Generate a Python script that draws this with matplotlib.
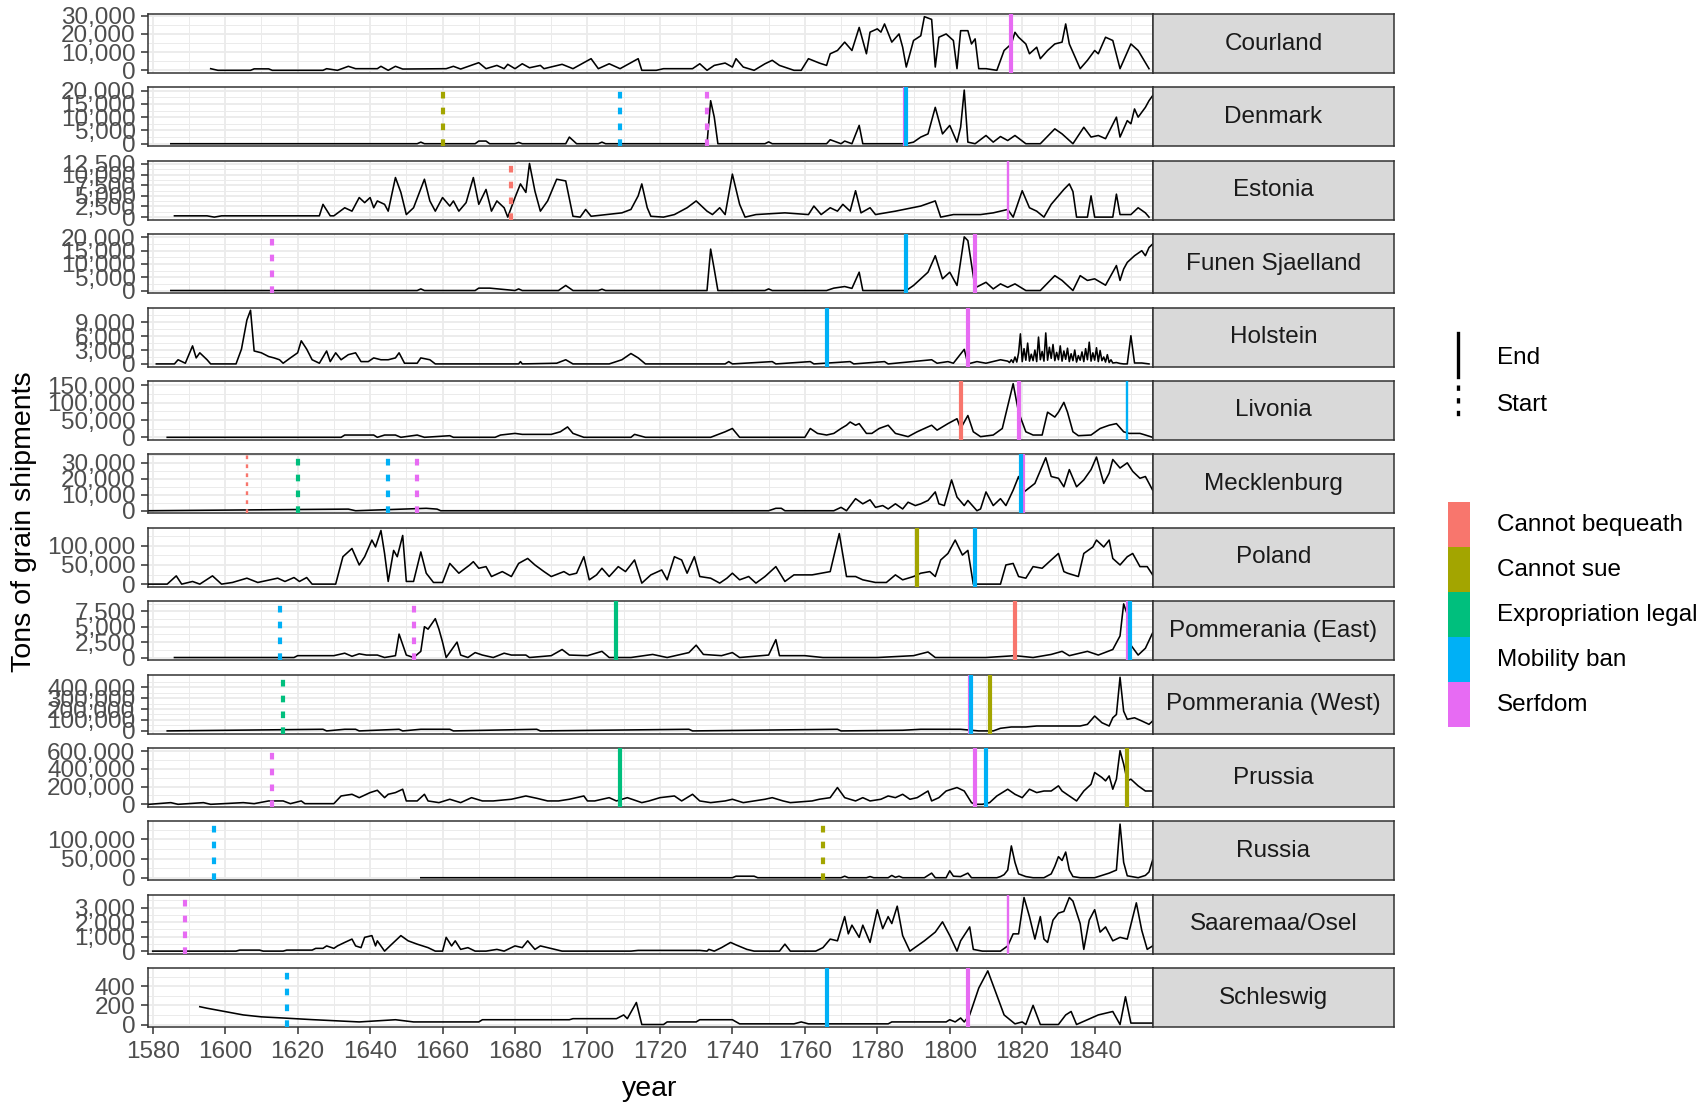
import matplotlib
matplotlib.use("Agg")
import matplotlib.pyplot as plt
from matplotlib.lines import Line2D
from matplotlib.patches import Rectangle

plt.rcParams['font.family'] = ['Liberation Sans', 'DejaVu Sans']

countries = ["Courland", "Denmark", "Estonia", "Funen Sjaelland", "Holstein", "Livonia",
             "Mecklenburg", "Poland", "Pommerania (East)", "Pommerania (West)", "Prussia",
             "Russia", "Saaremaa/Osel", "Schleswig"]

# tons of grain shipped per year
courland_year = [1596, 1598, 1607, 1608, 1612, 1613, 1627, 1628, 1631, 1634,
                 1636, 1642, 1643, 1645, 1647, 1649, 1661, 1663, 1665, 1670,
                 1672, 1675, 1677, 1678, 1680, 1682, 1684, 1687, 1688, 1693,
                 1696, 1701, 1703, 1706, 1709, 1714, 1715, 1719, 1721, 1729,
                 1731, 1733, 1735, 1738, 1740, 1741, 1743, 1746, 1749, 1751,
                 1753, 1757, 1759, 1761, 1764, 1766, 1767, 1769, 1771, 1773,
                 1775, 1777, 1778, 1780, 1781, 1782, 1784, 1786, 1787, 1788,
                 1790, 1792, 1793, 1795, 1796, 1797, 1799, 1801, 1802, 1803,
                 1805, 1806, 1807, 1808, 1810, 1813, 1815, 1817, 1818, 1819,
                 1821, 1822, 1824, 1825, 1827, 1829, 1831, 1832, 1833, 1836,
                 1838, 1840, 1841, 1843, 1845, 1847, 1850, 1852, 1855]
courland_tons = [900, 0, 0, 800, 800, 0, 0, 900, 0, 2200,
                 900, 900, 2200, 0, 2200, 700, 900, 2200, 700, 4200,
                 900, 2700, 900, 3300, 900, 3600, 1400, 2700, 900, 3300,
                 900, 6400, 900, 3600, 900, 6400, 0, 0, 900, 900,
                 3600, 0, 2700, 4000, 1800, 6400, 1800, 0, 3600, 5500,
                 2700, 0, 0, 6400, 4000, 2700, 9100, 10900, 15500, 10900,
                 23600, 9100, 21000, 22800, 21000, 25500, 15500, 20000, 12700, 1800,
                 16400, 19000, 29500, 28000, 1800, 18200, 20000, 16400, 900, 21800,
                 21800, 14500, 17300, 900, 900, 0, 10900, 14500, 20900, 18200,
                 14500, 9100, 12700, 6400, 10900, 14500, 15500, 25500, 14500, 900,
                 5500, 10900, 9100, 18200, 16400, 900, 14500, 10900, 900]

denmark_year = [1585, 1653, 1654, 1655, 1669, 1670, 1672, 1673, 1680, 1681,
                1682, 1694, 1695, 1697, 1703, 1704, 1705, 1733, 1734, 1735,
                1736, 1749, 1750, 1751, 1766, 1767, 1770, 1771, 1773, 1775,
                1776, 1788, 1790, 1792, 1794, 1796, 1798, 1800, 1802, 1803,
                1804, 1805, 1807, 1810, 1812, 1814, 1816, 1818, 1821, 1825,
                1829, 1831, 1834, 1837, 1839, 1841, 1843, 1846, 1847, 1849,
                1850, 1851, 1852, 1854, 1855, 1856]
denmark_tons = [0, 0, 600, 0, 0, 1000, 1000, 0, 0, 500,
                0, 0, 2500, 0, 0, 600, 0, 0, 16200, 10000,
                0, 0, 700, 0, 0, 1500, 0, 1000, 0, 6900,
                0, 0, 600, 2500, 3700, 13700, 3700, 6900, 600, 6200,
                20200, 600, 0, 3100, 600, 2700, 1200, 3100, 0, 0,
                5600, 3700, 0, 6200, 2500, 3100, 1900, 10000, 2500, 8700,
                7500, 13100, 10000, 13700, 16200, 18100]

estonia_year = [1586, 1595, 1597, 1599, 1626, 1627, 1629, 1630, 1633, 1635,
                1637, 1638.5, 1640, 1641, 1642, 1644, 1645, 1647, 1648.5, 1650,
                1652, 1655, 1656.5, 1658, 1660, 1662, 1663, 1664.5, 1666.5, 1668.5,
                1670, 1672, 1673.5, 1675, 1677, 1678, 1680, 1681.5, 1683, 1684,
                1685.5, 1687, 1689, 1691.5, 1694, 1696, 1698, 1699.5, 1701, 1709.5,
                1712, 1714, 1715, 1716.5, 1717.5, 1721, 1724, 1727.5, 1730, 1733,
                1734.5, 1736.5, 1738, 1740, 1742, 1743.5, 1746.5, 1754.5, 1761, 1762.5,
                1764.5, 1767, 1769, 1770.5, 1772.5, 1774, 1775.5, 1778, 1779.5, 1785,
                1792, 1796, 1797.5, 1801, 1808.5, 1812, 1816, 1817.5, 1820, 1822,
                1824, 1826, 1828, 1830, 1831.5, 1833, 1834, 1835, 1838, 1839,
                1840, 1845, 1846, 1847, 1850, 1852, 1854, 1855]
estonia_tons = [300, 300, 0, 300, 300, 3000, 300, 300, 2200, 1400,
                4600, 3400, 4600, 2200, 3800, 3000, 1400, 9300, 5800, 600,
                2200, 8900, 3800, 1400, 4600, 2600, 3800, 1400, 3400, 9300,
                3000, 6500, 1400, 3800, 2200, 0, 4600, 7800, 5800, 12600,
                6100, 1400, 3800, 8900, 8500, 200, 0, 1800, 200, 1000,
                1800, 5000, 7800, 2200, 200, 0, 600, 2200, 3800, 1400,
                600, 2200, 600, 10100, 3000, 0, 600, 1000, 600, 2600,
                600, 2200, 1400, 3000, 1400, 6200, 1000, 2200, 600, 1400,
                2600, 3800, 0, 600, 600, 1000, 1800, 0, 6200, 2200,
                1400, 0, 3000, 5000, 6500, 7800, 6000, 0, 0, 5000,
                0, 0, 5400, 600, 600, 2200, 1000, 0]

funen_year = [1585, 1653, 1654, 1655, 1669, 1670, 1673, 1680, 1681, 1682,
              1692, 1694, 1696, 1703, 1704, 1705, 1733, 1734, 1735, 1736,
              1749, 1750, 1751, 1766, 1768, 1771, 1773, 1775, 1776, 1788,
              1790, 1792, 1794, 1796, 1798, 1800, 1802, 1803, 1804, 1805,
              1807, 1810, 1812, 1814, 1816, 1818, 1821, 1825, 1829, 1831,
              1834, 1836, 1838, 1840, 1843, 1846, 1847, 1848, 1849, 1851,
              1853, 1854, 1855, 1856]
funen_tons = [0, 0, 600, 0, 0, 900, 900, 0, 600, 0,
              0, 1900, 0, 0, 500, 0, 0, 15600, 8000, 0,
              0, 600, 0, 0, 900, 1500, 800, 6900, 0, 0,
              1900, 4400, 6900, 13100, 4400, 6900, 1900, 11000, 20200, 18800,
              1000, 3100, 600, 2500, 1200, 2500, 0, 0, 5600, 3800,
              0, 5600, 3800, 4400, 2000, 9400, 3800, 8100, 10600, 13100,
              15000, 13100, 16200, 17500]

holstein_year = [1581, 1586, 1587, 1589, 1591, 1592, 1593, 1595, 1596, 1603,
                 1604.5, 1606, 1607, 1608, 1610, 1612, 1613.5, 1615, 1616, 1618,
                 1620, 1621, 1622.5, 1624, 1626, 1628, 1629, 1630.5, 1632, 1634,
                 1636, 1637.5, 1639.5, 1641, 1643, 1645, 1647, 1648, 1649.5, 1653,
                 1654, 1656.5, 1658, 1681, 1681.5, 1682, 1691.5, 1694, 1696, 1706,
                 1709.5, 1712, 1714, 1716, 1738, 1739, 1740, 1751, 1752, 1761.5,
                 1762.5, 1772.5, 1773.5, 1782, 1783, 1795, 1796.5, 1799.5, 1801, 1804,
                 1805, 1807.5, 1810, 1814,
                 1816, 1816.5, 1817, 1817.5, 1818, 1818.5, 1819, 1819.5, 1820, 1820.5,
                 1821, 1821.5, 1822, 1822.5, 1823, 1823.5, 1824, 1824.5, 1825, 1825.5,
                 1826, 1826.5, 1827, 1827.5, 1828, 1828.5, 1829, 1829.5, 1830, 1830.5,
                 1831, 1831.5, 1832, 1832.5, 1833, 1833.5, 1834, 1834.5, 1835, 1835.5,
                 1836, 1836.5, 1837, 1837.5, 1838, 1838.5, 1839, 1839.5, 1840, 1840.5,
                 1841, 1841.5, 1842, 1842.5, 1843, 1843.5, 1844, 1844.5,
                 1845, 1846, 1847, 1848, 1849, 1850, 1851, 1853, 1855]
holstein_tons = [0, 0, 900, 150, 3900, 1300, 2400, 900, 0, 0,
                 3200, 9500, 11600, 2800, 2400, 1600, 1300, 900, 150, 1300,
                 2400, 5000, 3200, 900, 150, 2800, 500, 2400, 900, 2000,
                 2400, 500, 500, 1300, 900, 900, 1300, 2400, 150, 150,
                 1300, 900, 0, 0, 500, 0, 150, 900, 0, 0,
                 900, 2250, 1300, 0, 0, 500, 0, 500, 0, 500,
                 0, 500, 0, 500, 0, 900, 150, 500, 150, 3150,
                 0, 500, 150, 900,
                 600, 300, 900, 300, 1500, 400, 2400, 6500, 500, 3300,
                 800, 4500, 600, 2100, 700, 3000, 500, 5800, 900, 2700,
                 600, 6700, 800, 3600, 1200, 4200, 700, 2500, 900, 3900,
                 600, 2800, 1000, 3400, 500, 2200, 700, 3000, 400, 1800,
                 800, 2600, 500, 3300, 900, 4700, 600, 2400, 800, 3500,
                 500, 2900, 700, 1500, 400, 2000, 300, 900,
                 200, 300, 100, 0, 0, 6100, 200, 200, 0]

livonia_year = [1584, 1632, 1633, 1641, 1642, 1644, 1647, 1648.5, 1653, 1655,
                1662, 1663, 1674.5, 1676, 1680, 1682, 1690, 1692.5, 1694.5, 1696,
                1699, 1712, 1713, 1716, 1734, 1738, 1740, 1742, 1760, 1761.5,
                1763.5, 1766, 1768, 1770, 1771.5, 1772.5, 1774, 1775, 1777, 1778.5,
                1780.5, 1783, 1785, 1788.5, 1791, 1793, 1795, 1796.5, 1799.5, 1802,
                1803, 1805, 1806.5, 1808.5, 1812, 1814.5, 1817.5, 1819, 1821, 1823,
                1825.5, 1827, 1829, 1830, 1831.5, 1832.5, 1834, 1835.5, 1839, 1841.5,
                1844, 1846, 1848, 1849.5, 1852.5, 1854, 1856]
livonia_tons = [0, 0, 6600, 6600, 0, 6600, 6600, 0, 6600, 0,
                4700, 0, 0, 6600, 11300, 8500, 8500, 16000, 30000, 11300,
                0, 0, 8500, 0, 0, 16000, 25500, 0, 0, 25500,
                11300, 6600, 11300, 25500, 34900, 44300, 34900, 39600, 11300, 11300,
                25500, 34900, 11300, 1900, 16000, 25500, 34900, 20700, 39600, 53700,
                25500, 63000, 16000, 1900, 6600, 25500, 155000, 72600, 16000, 6600,
                6600, 72600, 58500, 72600, 101000, 72600, 16000, 4700, 6600, 25500,
                34900, 39600, 16000, 11300, 11300, 6600, 0]

meck_year = [1579, 1634, 1636, 1655.5, 1658.5, 1659.5, 1750, 1752, 1753.5, 1754.5,
             1768, 1770, 1771.5, 1774, 1776, 1778, 1779.5, 1781.5, 1783, 1785,
             1787, 1788.5, 1790.5, 1792, 1794, 1796, 1797, 1798.5, 1800.5, 1802,
             1804, 1805, 1807.5, 1808.5, 1810, 1812, 1814, 1815.5, 1817.5, 1819,
             1820.5, 1823.5, 1826.5, 1828, 1830, 1831.5, 1833, 1835, 1837, 1839,
             1840.5, 1842.5, 1844, 1845, 1847, 1849, 1850.5, 1852.5, 1854, 1856]
meck_tons = [0, 1000, 0, 1500, 1000, 0, 0, 1500, 1500, 0,
             0, 2100, 0, 7500, 4300, 6800, 2100, 3200, 1100, 4300,
             1100, 5300, 3200, 4300, 6400, 11700, 4300, 3200, 19200, 8500,
             3200, 6400, 0, 1100, 11700, 3200, 7500, 3200, 12800, 21300,
             11700, 17000, 33000, 21300, 20200, 14900, 25600, 14900, 19200, 25600,
             33400, 17000, 23400, 31900, 26600, 29800, 24500, 20200, 21300, 12800]

poland_year = [1578.5, 1584, 1586.5, 1588, 1591, 1593, 1596.5, 1599, 1602, 1606,
               1609, 1614.5, 1616.5, 1619, 1620.5, 1622.5, 1624, 1630.5, 1632.5, 1635,
               1637, 1638.5, 1640.5, 1641.5, 1643, 1644, 1645, 1646.5, 1647.5, 1649,
               1650, 1652, 1654, 1655.5, 1657.5, 1660, 1662, 1664.5, 1667.5, 1668.5,
               1670, 1672, 1673.5, 1676.5, 1679, 1681, 1683.5, 1685.5, 1688, 1690,
               1693.5, 1695, 1697, 1699, 1700.5, 1702.5, 1704, 1706, 1708.5, 1710.5,
               1713, 1715, 1717.5, 1720.5, 1722, 1724, 1726, 1727.5, 1729.5, 1731,
               1734, 1736.5, 1738.5, 1740, 1742, 1744.5, 1746.5, 1749, 1752, 1754.5,
               1757, 1762, 1767, 1769.5, 1771.5, 1774, 1776, 1779.5, 1782.5, 1785,
               1787, 1790, 1792, 1794.5, 1796, 1797.5, 1799.5, 1801.5, 1803.5, 1805,
               1806.5, 1808.5, 1814, 1815.5, 1817.5, 1819, 1821, 1823, 1825.5, 1828,
               1830, 1831.5, 1832.5, 1835.5, 1837, 1839.5, 1840.5, 1842.5, 1844, 1845,
               1847, 1849, 1850.5, 1852.5, 1854.5, 1856]
poland_tons = [0, 0, 21500, 0, 6900, 0, 21500, 0, 4300, 15500,
               4300, 15500, 6900, 17200, 6900, 17200, 0, 0, 71500, 93000,
               50000, 71500, 115000, 97000, 140000, 80000, 7000, 88000, 71500, 127000,
               7000, 7000, 84000, 28500, 4300, 4300, 54000, 28500, 50000, 58600,
               41400, 45700, 19800, 32700, 19800, 54000, 67000, 50000, 32700, 19800,
               32700, 24100, 28500, 71500, 11200, 24100, 41400, 19800, 45700, 32700,
               63000, 2600, 24100, 37000, 11200, 71500, 63000, 28500, 71500, 19800,
               15500, 2600, 15500, 28500, 11200, 19800, 2600, 19800, 45700, 6900,
               24100, 24100, 32700, 132000, 19800, 19800, 11200, 4300, 4300, 24100,
               11200, 19800, 28500, 32700, 19800, 63000, 80000, 115000, 75800, 88000,
               0, 0, 0, 50000, 54000, 19800, 15500, 45700, 41400, 63000,
               80000, 32700, 28500, 19800, 80000, 97000, 115000, 97000, 115000, 67000,
               50000, 71500, 80000, 45700, 45700, 24100]

pome_year = [1586, 1619, 1620, 1630, 1633, 1635, 1637, 1639, 1642, 1644,
             1647, 1648, 1650, 1652, 1654, 1655, 1656, 1658, 1659, 1660,
             1661, 1664, 1665, 1667, 1669, 1671, 1674, 1677, 1679, 1683,
             1684, 1690, 1693, 1695, 1700, 1704, 1706, 1712, 1718, 1722,
             1728, 1730, 1732, 1737, 1740, 1742, 1750, 1752, 1753, 1760,
             1765, 1780, 1790, 1794, 1796, 1810, 1818, 1823, 1828, 1831,
             1833, 1838, 1841, 1845, 1847, 1848, 1849, 1850, 1852, 1854,
             1856]
pome_tons = [0, 0, 300, 300, 700, 200, 600, 400, 400, 0,
             300, 3800, 400, 0, 1000, 5000, 4600, 6300, 4600, 2500,
             0, 2500, 400, 0, 800, 400, 0, 700, 400, 400,
             0, 300, 1300, 400, 300, 1000, 0, 0, 500, 0,
             800, 2000, 500, 300, 800, 0, 400, 2900, 300, 300,
             0, 0, 300, 900, 0, 0, 300, 0, 500, 1000,
             300, 1000, 400, 1300, 3500, 8700, 7000, 2000, 400, 1500,
             4000]

pomw_year = [1584, 1627, 1628, 1633, 1636, 1637, 1648, 1649, 1654, 1662,
             1663, 1686, 1687, 1728, 1729, 1769, 1770, 1787, 1792, 1803,
             1808, 1812, 1814, 1817, 1821, 1824, 1828, 1831, 1836, 1838,
             1840, 1842, 1844, 1845, 1846, 1847, 1848, 1849, 1851, 1853,
             1855, 1856]
pomw_tons = [0, 15000, 0, 15000, 15000, 0, 15000, 0, 15000, 15000,
             0, 15000, 0, 15000, 0, 15000, 0, 6000, 15000, 15000,
             0, 0, 24000, 36000, 36000, 45000, 45000, 45000, 45000, 60000,
             136000, 75000, 45000, 120000, 150000, 490000, 180000, 106000, 120000, 91000,
             60000, 91000]

prussia_year = [1579, 1585, 1587, 1594, 1596, 1605, 1608, 1612, 1616, 1618,
                1621, 1622, 1630, 1632, 1635, 1637, 1640, 1642, 1644, 1645,
                1647, 1649, 1650, 1653, 1655, 1656, 1659, 1662, 1665, 1668,
                1671, 1674, 1679, 1683, 1686, 1689, 1692, 1695, 1699, 1700,
                1702, 1706, 1708, 1711, 1715, 1717, 1720, 1724, 1726, 1729,
                1731, 1734, 1738, 1740, 1743, 1749, 1751, 1754, 1756, 1762,
                1764, 1767, 1769, 1771, 1774, 1776, 1778, 1781, 1783, 1785,
                1787, 1789, 1791, 1794, 1795, 1797, 1799, 1802, 1804, 1806,
                1807, 1809, 1811, 1813, 1816, 1818, 1820, 1822, 1824, 1826,
                1828, 1830, 1831, 1833, 1835, 1837, 1839, 1840, 1842, 1843,
                1844, 1845, 1846, 1847, 1848, 1849, 1850, 1852, 1854, 1856]
prussia_tons = [0, 19000, 0, 19000, 0, 19000, 7500, 38000, 38000, 7500,
                38000, 7500, 7500, 94000, 113000, 75000, 132000, 158000, 75000, 113000,
                132000, 170000, 38000, 38000, 113000, 38000, 19000, 57000, 19000, 75000,
                38000, 38000, 57000, 94000, 68000, 38000, 38000, 57000, 94000, 38000,
                38000, 75000, 38000, 75000, 19000, 38000, 75000, 94000, 38000, 113000,
                38000, 19000, 38000, 57000, 19000, 57000, 75000, 38000, 19000, 38000,
                57000, 75000, 189000, 75000, 38000, 75000, 38000, 57000, 94000, 75000,
                113000, 57000, 75000, 150000, 38000, 75000, 150000, 189000, 150000, 19000,
                0, 0, 19000, 94000, 170000, 113000, 75000, 170000, 132000, 150000,
                150000, 208000, 150000, 94000, 38000, 150000, 226000, 358000, 302000, 264000,
                320000, 170000, 283000, 604000, 453000, 264000, 283000, 208000, 150000, 150000]

russia_year = [1654, 1740, 1741, 1746, 1747, 1770, 1771, 1772, 1777, 1778,
               1779, 1783, 1784, 1785, 1786, 1787, 1793, 1795, 1796, 1799,
               1800, 1801, 1803, 1805, 1806, 1813, 1814, 1815, 1816, 1817,
               1818, 1819, 1821, 1823, 1826, 1828, 1829, 1830, 1831, 1832,
               1833, 1834, 1836, 1840, 1842, 1844, 1846, 1847, 1848, 1849,
               1852, 1854, 1855, 1856]
russia_tons = [0, 0, 4000, 4000, 0, 0, 4000, 0, 0, 3000,
               0, 0, 6000, 1000, 4000, 0, 0, 12000, 0, 0,
               18000, 4000, 3000, 12000, 0, 0, 3000, 8000, 20000, 83000,
               40000, 10000, 3000, 0, 0, 10000, 30000, 55000, 45000, 67000,
               20000, 3000, 0, 0, 6000, 12000, 20000, 140000, 40000, 5000,
               0, 6000, 15000, 46000]

saare_year = [1580, 1603, 1604, 1609.5, 1610.5, 1616, 1617, 1624, 1625, 1627,
              1628, 1630, 1631, 1633, 1635, 1636, 1637.5, 1638.5, 1640.5, 1641.5,
              1642, 1644, 1646, 1648.5, 1650.5, 1653, 1656, 1658, 1660, 1661,
              1662.5, 1663.5, 1665, 1667, 1669, 1672, 1675, 1677, 1680, 1682,
              1683.5, 1685.5, 1687, 1689, 1691, 1693, 1702, 1712, 1714, 1731,
              1733, 1733.5, 1735, 1737, 1739.5, 1741, 1744, 1746, 1753, 1754.5,
              1756, 1763, 1765, 1767, 1769, 1771, 1772, 1773, 1775, 1776,
              1778, 1780, 1781.5, 1783, 1784, 1785.5, 1787, 1789, 1793, 1796,
              1798, 1800, 1802, 1803, 1805.5, 1806.5, 1809, 1814, 1816, 1817.5,
              1819, 1820.5, 1822, 1823.5, 1825, 1826, 1827, 1828.5, 1830, 1831.5,
              1833, 1834, 1836, 1837, 1838.5, 1840, 1841.5, 1843, 1845, 1847,
              1849, 1851.5, 1853, 1854.5, 1856]
saare_tons = [0, 0, 70, 70, 0, 0, 70, 70, 190, 190,
              360, 190, 360, 600, 830, 360, 240, 950, 1070, 360,
              710, 0, 480, 1070, 710, 480, 240, 0, 0, 950,
              360, 710, 120, 240, 0, 0, 120, 0, 360, 240,
              710, 120, 360, 240, 120, 0, 0, 0, 50, 50,
              0, 120, 0, 240, 600, 430, 120, 0, 0, 480,
              0, 0, 240, 830, 710, 2380, 1190, 1790, 950, 1790,
              600, 2860, 1550, 2380, 1900, 3100, 1070, 0, 710, 1310,
              2020, 1070, 0, 710, 1670, 120, 0, 0, 360, 1190,
              1190, 3700, 2380, 830, 2380, 830, 600, 2140, 2620, 2740,
              3700, 3450, 1900, 120, 2140, 2860, 1310, 1670, 710, 950,
              830, 3330, 1430, 120, 360]

schles_year = [1593, 1595, 1600, 1605, 1610, 1616, 1624, 1637, 1647, 1652,
               1670, 1671, 1680, 1695, 1696, 1708, 1710, 1711, 1713.5, 1715,
               1721, 1722, 1730, 1731, 1740, 1742, 1757, 1759, 1761, 1768,
               1783, 1784, 1799, 1800, 1801.5, 1803, 1804, 1805.5, 1808, 1810.5,
               1813, 1815, 1818, 1820, 1821, 1823, 1825, 1830, 1832, 1833.5,
               1835, 1841, 1845, 1847, 1848.5, 1850, 1856]
schles_tons = [186, 170, 135, 100, 80, 68, 51, 27, 50, 27,
               27, 50, 50, 50, 61, 61, 100, 61, 230, 0,
               0, 27, 27, 50, 50, 7, 7, 27, 7, 7,
               7, 27, 27, 50, 27, 68, 27, 100, 380, 560,
               305, 100, 7, 27, 0, 200, 0, 0, 100, 136,
               0, 100, 136, 0, 290, 15, 15]

y_breaks = [[0, 10000, 20000, 30000],
            [0, 5000, 10000, 15000, 20000],
            [0, 2500, 5000, 7500, 10000, 12500],
            [0, 5000, 10000, 15000, 20000],
            [0, 3000, 6000, 9000],
            [0, 50000, 100000, 150000],
            [0, 10000, 20000, 30000],
            [0, 50000, 100000],
            [0, 2500, 5000, 7500],
            [0, 100000, 200000, 300000, 400000],
            [0, 200000, 400000, 600000],
            [0, 50000, 100000],
            [0, 1000, 2000, 3000],
            [0, 200, 400]]

# law changes (vertical lines)
law_country = ["Courland",
               "Denmark", "Denmark", "Denmark", "Denmark", "Denmark",
               "Estonia", "Estonia",
               "Funen Sjaelland", "Funen Sjaelland", "Funen Sjaelland",
               "Holstein", "Holstein",
               "Livonia", "Livonia", "Livonia",
               "Mecklenburg", "Mecklenburg", "Mecklenburg", "Mecklenburg", "Mecklenburg", "Mecklenburg",
               "Poland", "Poland",
               "Pommerania (East)", "Pommerania (East)", "Pommerania (East)", "Pommerania (East)",
               "Pommerania (East)", "Pommerania (East)",
               "Pommerania (West)", "Pommerania (West)", "Pommerania (West)", "Pommerania (West)",
               "Prussia", "Prussia", "Prussia", "Prussia", "Prussia",
               "Russia", "Russia",
               "Saaremaa/Osel", "Saaremaa/Osel",
               "Schleswig", "Schleswig", "Schleswig"]
law_year = [1817,
            1660, 1709, 1733, 1787.6, 1788,
            1679, 1816,
            1613, 1788, 1807,
            1766, 1805,
            1803, 1819, 1849,
            1606, 1620, 1645, 1653, 1820.3, 1819.7,
            1791, 1807,
            1615, 1652, 1708, 1818, 1849.2, 1849.8,
            1616, 1805.5, 1806, 1811,
            1613, 1709, 1807, 1810, 1849,
            1597, 1765,
            1589, 1816,
            1617, 1766, 1805]
law_kind = ["Serfdom",
            "Cannot sue", "Mobility ban", "Serfdom", "Serfdom", "Mobility ban",
            "Cannot bequeath", "Serfdom",
            "Serfdom", "Mobility ban", "Serfdom",
            "Mobility ban", "Serfdom",
            "Cannot bequeath", "Serfdom", "Mobility ban",
            "Cannot bequeath", "Expropriation legal", "Mobility ban", "Serfdom", "Serfdom", "Mobility ban",
            "Cannot sue", "Mobility ban",
            "Mobility ban", "Serfdom", "Expropriation legal", "Cannot bequeath", "Serfdom", "Mobility ban",
            "Expropriation legal", "Serfdom", "Mobility ban", "Cannot sue",
            "Serfdom", "Expropriation legal", "Serfdom", "Mobility ban", "Cannot sue",
            "Mobility ban", "Cannot sue",
            "Serfdom", "Serfdom",
            "Mobility ban", "Mobility ban", "Serfdom"]
law_phase = ["End",
             "Start", "Start", "Start", "End", "End",
             "Start", "End",
             "Start", "End", "End",
             "End", "End",
             "End", "End", "End",
             "Start", "Start", "Start", "Start", "End", "End",
             "End", "End",
             "Start", "Start", "End", "End", "End", "End",
             "Start", "End", "End", "End",
             "Start", "End", "End", "End", "End",
             "Start", "Start",
             "Start", "End",
             "Start", "End", "End"]

kinds = ["Cannot bequeath", "Cannot sue", "Expropriation legal", "Mobility ban", "Serfdom"]
kind_colors = ["#F8766D", "#A3A500", "#00BF7D", "#00B0F6", "#E76BF3"]
thin_lines = [("Mecklenburg", "Cannot bequeath", "Start"), ("Livonia", "Mobility ban", "End"),
              ("Estonia", "Serfdom", "End"), ("Saaremaa/Osel", "Serfdom", "End")]

series = [(courland_year, courland_tons), (denmark_year, denmark_tons),
          (estonia_year, estonia_tons), (funen_year, funen_tons),
          (holstein_year, holstein_tons), (livonia_year, livonia_tons),
          (meck_year, meck_tons), (poland_year, poland_tons),
          (pome_year, pome_tons), (pomw_year, pomw_tons),
          (prussia_year, prussia_tons), (russia_year, russia_tons),
          (saare_year, saare_tons), (schles_year, schles_tons)]

W, H = 1707, 1105
fig = plt.figure(figsize=(W / 100, H / 100), dpi=100)
dash = (0, (1.6, 2.2))
edge = "#333333"
fs = 17.5

for i, name in enumerate(countries):
    top = 14 + 73.4 * i
    rect = [148 / W, 1 - (top + 59) / H, 1005 / W, 59 / H]
    ax = fig.add_axes(rect)
    yrs, tons = series[i]
    ax.plot(yrs, tons, color="black", lw=1.15, zorder=3)
    for c, yr, kind, phase in zip(law_country, law_year, law_kind, law_phase):
        if c != name:
            continue
        lw = 1.7 if (c, kind, phase) in thin_lines else 3.0
        ax.axvline(yr, color=kind_colors[kinds.index(kind)], lw=lw,
                   linestyle="-" if phase == "End" else dash, zorder=4)

    br = y_breaks[i]
    step = br[1] - br[0]
    ax.set_yticks(br)
    ax.set_yticklabels([f"{b:,}" for b in br])
    ax.set_yticks([b + step / 2 for b in br], minor=True)
    ax.set_xticks(range(1580, 1841, 20))
    ax.set_xticks(range(1590, 1851, 20), minor=True)

    lo, hi = min(tons), max(tons)
    pad = 0.05 * (hi - lo)
    ax.set_ylim(lo - pad, hi + pad)
    ax.set_xlim(1578.7, 1856.1)

    ax.grid(which="major", color="#EBEBEB", lw=1.3)
    ax.grid(which="minor", color="#EBEBEB", lw=0.7)
    ax.set_axisbelow(True)
    ax.tick_params(which="minor", length=0)
    ax.tick_params(axis="y", which="major", length=5, width=1.1, color=edge,
                   labelsize=fs, labelcolor="#4D4D4D", pad=4)
    if i == len(countries) - 1:
        ax.tick_params(axis="x", which="major", length=5, width=1.1, color=edge,
                       labelsize=fs, labelcolor="#4D4D4D", pad=5)
    else:
        ax.tick_params(axis="x", which="major", length=0, labelbottom=False)
    for s in ax.spines.values():
        s.set_color(edge)
        s.set_linewidth(1.1)

    sax = fig.add_axes([1153 / W, rect[1], 241 / W, 59 / H])
    sax.set_facecolor("#D9D9D9")
    sax.set_xticks([])
    sax.set_yticks([])
    for s in sax.spines.values():
        s.set_color(edge)
        s.set_linewidth(1.1)
    sax.text(0.5, 0.5, name, ha="center", va="center", fontsize=fs, color="#1A1A1A",
             transform=sax.transAxes)

fig.text(24 / W, 1 - 522 / H, "Tons of grain shipments", rotation=90,
         ha="center", va="center", fontsize=20.5)
fig.text(650 / W, 1 - 1089 / H, "year", ha="center", va="center", fontsize=20.5)

# legends
lax = fig.add_axes([0, 0, 1, 1])
lax.set_xlim(0, W)
lax.set_ylim(H, 0)
lax.axis("off")
lax.add_line(Line2D([1458, 1458], [333, 377], color="black", lw=2.4))
lax.add_line(Line2D([1458, 1458], [385, 423], color="black", lw=2.4, linestyle=dash))
lax.text(1497, 358, "End", va="center", ha="left", fontsize=fs)
lax.text(1497, 405, "Start", va="center", ha="left", fontsize=fs)
for k, (kind, col) in enumerate(zip(kinds, kind_colors)):
    lax.add_patch(Rectangle((1448, 502 + 45 * k), 22, 45, facecolor=col, edgecolor="none"))
    lax.text(1497, 525 + 45 * k, kind, va="center", ha="left", fontsize=fs)

fig.savefig("out.png", dpi=100)
